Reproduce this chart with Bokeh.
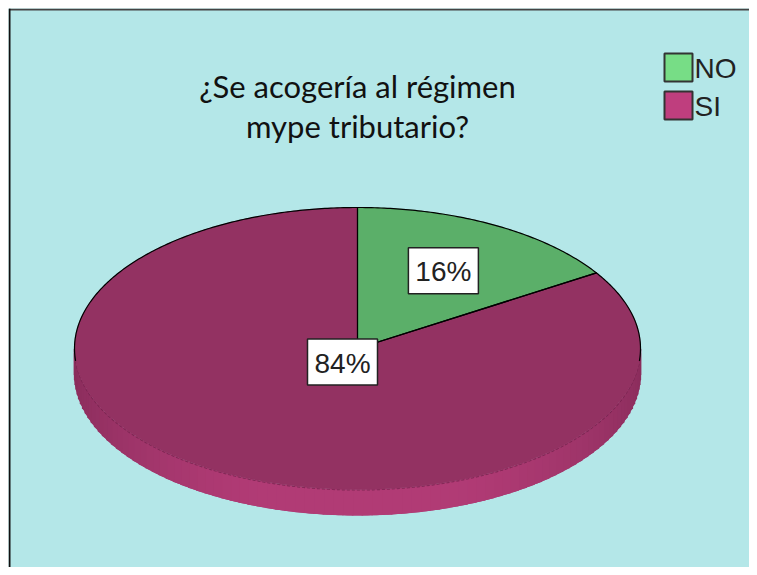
import numpy as np
from bokeh.plotting import figure
from bokeh.models import Range1d, ColumnDataSource
from bokeh.core.properties import value
from bokeh.embed import file_html
from bokeh.resources import INLINE

# ---- data ----
title_lines = ["¿Se acogería al régimen", "mype tributario?"]
categories = ["NO", "SI"]
values = [16, 84]
labels = ["16%", "84%"]
top_colors = ["#5BAF69", "#933262"]
legend_colors = ["#77DD86", "#BF3E7E"]

# ---- layout (page pixel coordinates) ----
W, H = 741, 559
BG = "#B4E7E8"
cx, cy, rx, ry, depth = 357, 348, 283, 141, 26
label_frac = [0.63, 0.11]

p = figure(width=W + 8, height=H + 8, output_backend="svg", toolbar_location=None,
           x_range=Range1d(8, 8 + W), y_range=Range1d(8 + H, 8),
           min_border=0, min_border_left=8, min_border_top=8,
           background_fill_color=BG, border_fill_color="white",
           outline_line_color=None)
p.axis.visible = False
p.grid.visible = False

def pt(t_deg, dy=0.0):
    t = np.radians(t_deg)
    return cx + rx * np.sin(t), cy - ry * np.cos(t) + dy

def hex2rgb(h):
    h = h.lstrip("#")
    return np.array([int(h[i:i + 2], 16) for i in (0, 2, 4)], float)

def rgb2hex(c):
    return "#%02x%02x%02x" % tuple(int(round(v)) for v in c)

# angles
total = float(sum(values))
starts, ends = [], []
a = 0.0
for v in values:
    starts.append(a)
    a += 360.0 * v / total
    ends.append(a)

# ---- side of cylinder (front half: 90..270 deg) ----
c_dark = hex2rgb("#8A2D5C")
c_light = hex2rgb("#B13B75")
for i in range(len(values)):
    lo, hi = max(starts[i], 90.0), min(ends[i], 270.0)
    if hi <= lo:
        continue
    # base shape
    ts = np.linspace(lo, hi, 300)
    x, y = pt(ts)
    bxs = np.concatenate([x, x[::-1]])
    bys = np.concatenate([y, (y + depth)[::-1]])
    p.patch(bxs, bys, fill_color="#A23570", line_color=None)
    # shaded strips
    xs_side, ys_side, cols_side = [], [], []
    ts = np.linspace(lo, hi, int((hi - lo) / 2.0) + 2)
    for t1, t2 in zip(ts[:-1], ts[1:]):
        x1, y1 = pt(t1)
        x2, y2 = pt(t2)
        xs_side.append([x1 + 0.8, x2 - 0.8, x2 - 0.8, x1 + 0.8])
        ys_side.append([y1, y2, y2 + depth, y1 + depth])
        tm = np.radians((t1 + t2) / 2 - 180.0)
        f = np.clip(np.cos(tm) ** 1.5 * 1.1, 0, 1)
        cols_side.append(rgb2hex(c_dark + (c_light - c_dark) * f))
    p.patches(xs_side, ys_side, fill_color=cols_side, line_color=None)

# darker line at top edge of the side
ts = np.linspace(90, 270, 200)
ex, ey = pt(ts)
p.line(ex, ey + 0.5, line_color="#6E2048", line_width=1.2, line_dash="3 2", line_alpha=0.7)

# ---- top face wedges ----
for i in range(len(values)):
    ts = np.linspace(starts[i], ends[i], 200)
    x, y = pt(ts)
    xs = np.concatenate([[cx], x, [cx]])
    ys = np.concatenate([[cy], y, [cy]])
    p.patch(xs, ys, fill_color=top_colors[i], line_color=top_colors[i], line_width=0.5)

# outline: back half of ellipse and slice boundaries
ts = np.linspace(-95, 95, 300)
ox, oy = pt(ts)
p.line(ox, oy, line_color="black", line_width=1.2)
for ang in starts:
    bx, by = pt(ang)
    p.line([cx, bx], [cy, by], line_color="black", line_width=1.3)
bx, by = pt(ends[0])
p.line([cx, bx], [cy, by], line_color="black", line_width=1.3)

# ---- labels ----
lx, ly = [], []
for i in range(len(values)):
    mid = (starts[i] + ends[i]) / 2
    t = np.radians(mid)
    lx.append(cx + label_frac[i] * rx * np.sin(t))
    ly.append(cy - label_frac[i] * ry * np.cos(t))
lsrc = ColumnDataSource(dict(x=lx, y=ly, text=labels))
p.rect("x", "y", width=70, height=46, source=lsrc, fill_color="white",
       line_color="#222222", line_width=1.5)
p.text("x", "y", text="text", source=lsrc, text_align="center", text_baseline="middle",
       text_font=value("Liberation Sans"), text_font_size="28px", text_color="#222222",
       y_offset=1)

# ---- legend ----
leg_y = [67 + 38 * i for i in range(len(categories))]
leg_x = [678] * len(categories)
gsrc = ColumnDataSource(dict(x=leg_x, y=leg_y, c=legend_colors, t=categories,
                             tx=[x + 16 for x in leg_x]))
p.rect("x", "y", width=28, height=28, source=gsrc, fill_color="c",
       line_color="#333333", line_width=2)
p.text("tx", "y", text="t", source=gsrc, text_baseline="middle", text_align="left",
       text_font=value("Liberation Sans"), text_font_size="28px", text_color="#222222",
       y_offset=1)

# ---- title ----
p.text([357] * len(title_lines), [85 + 40 * i for i in range(len(title_lines))],
       text=title_lines, text_align="center", text_baseline="alphabetic",
       text_font=value("Lato"), text_font_size="31px", text_color="#111111")

# ---- frame (top and left edges) ----
p.line([8.5, 8.5 + W], [9, 9], line_color="#444444", line_width=2)
p.line([9, 9], [8, 8 + H], line_color="#111111", line_width=2)

open("out.html", "w").write(file_html(p, INLINE))
